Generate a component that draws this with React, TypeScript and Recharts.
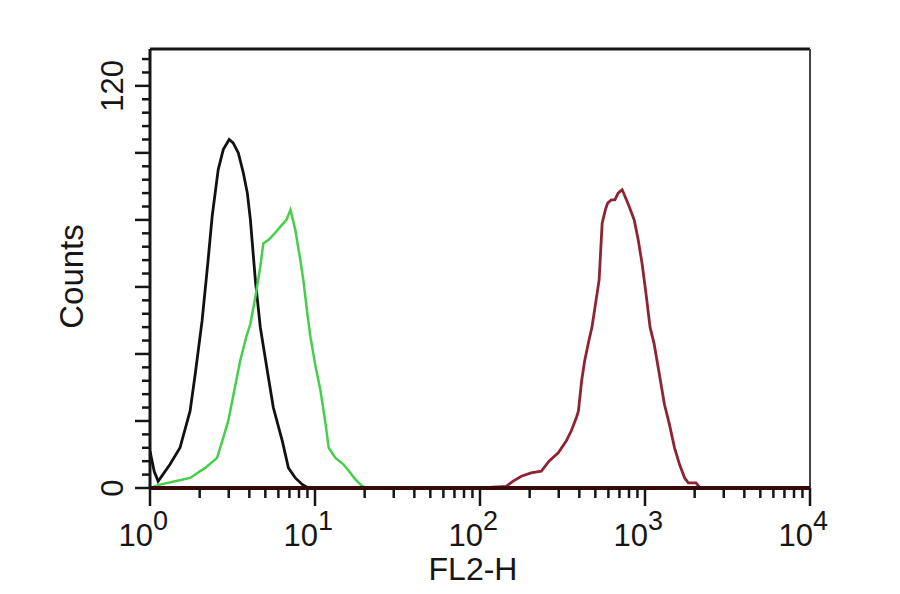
import { Line, LineChart, ReferenceLine, XAxis, YAxis } from "recharts";

// FL2-H channel vs. event count
const isotypeCounts = [
  { fl2: 1, count: 11 },
  { fl2: 1.06, count: 5 },
  { fl2: 1.12, count: 2 },
  { fl2: 1.32, count: 7 },
  { fl2: 1.52, count: 12 },
  { fl2: 1.75, count: 23 },
  { fl2: 1.88, count: 34 },
  { fl2: 2.07, count: 50 },
  { fl2: 2.25, count: 68 },
  { fl2: 2.38, count: 81 },
  { fl2: 2.59, count: 95 },
  { fl2: 2.78, count: 101 },
  { fl2: 3.02, count: 104 },
  { fl2: 3.19, count: 103 },
  { fl2: 3.43, count: 100 },
  { fl2: 3.68, count: 94 },
  { fl2: 3.89, count: 88 },
  { fl2: 4.06, count: 80 },
  { fl2: 4.35, count: 62 },
  { fl2: 4.66, count: 48 },
  { fl2: 5.14, count: 35 },
  { fl2: 5.59, count: 24 },
  { fl2: 6.34, count: 14 },
  { fl2: 6.9, count: 6 },
  { fl2: 7.6, count: 3 },
  { fl2: 8.4, count: 1 },
  { fl2: 9.1, count: 0 },
  { fl2: 10000, count: 0 },
];

const controlCounts = [
  { fl2: 1, count: 0 },
  { fl2: 1.15, count: 1 },
  { fl2: 1.42, count: 2 },
  { fl2: 1.75, count: 3 },
  { fl2: 2.16, count: 6 },
  { fl2: 2.55, count: 9 },
  { fl2: 2.74, count: 14 },
  { fl2: 2.98, count: 20 },
  { fl2: 3.24, count: 29 },
  { fl2: 3.52, count: 38 },
  { fl2: 3.83, count: 45 },
  { fl2: 4.06, count: 49 },
  { fl2: 4.35, count: 57 },
  { fl2: 4.66, count: 66 },
  { fl2: 4.86, count: 73 },
  { fl2: 5.21, count: 74 },
  { fl2: 5.59, count: 75.5 },
  { fl2: 6.17, count: 78 },
  { fl2: 6.71, count: 80 },
  { fl2: 7.1, count: 83 },
  { fl2: 7.6, count: 77 },
  { fl2: 8.15, count: 68 },
  { fl2: 8.5, count: 62 },
  { fl2: 8.99, count: 52 },
  { fl2: 9.39, count: 45 },
  { fl2: 10.1, count: 36 },
  { fl2: 10.8, count: 29 },
  { fl2: 11.6, count: 19 },
  { fl2: 12.1, count: 12 },
  { fl2: 13.3, count: 9 },
  { fl2: 14.9, count: 7 },
  { fl2: 16.4, count: 4.5 },
  { fl2: 17.6, count: 2.5 },
  { fl2: 19.4, count: 0.5 },
  { fl2: 21.1, count: 0 },
  { fl2: 10000, count: 0 },
];

const stainedCounts = [
  { fl2: 1, count: 0 },
  { fl2: 101, count: 0 },
  { fl2: 144, count: 0.5 },
  { fl2: 158, count: 2 },
  { fl2: 178, count: 3.5 },
  { fl2: 204, count: 4.5 },
  { fl2: 235, count: 5 },
  { fl2: 262, count: 8 },
  { fl2: 298, count: 10.5 },
  { fl2: 333, count: 14 },
  { fl2: 357, count: 17 },
  { fl2: 384, count: 21 },
  { fl2: 395, count: 23 },
  { fl2: 413, count: 32 },
  { fl2: 431, count: 38 },
  { fl2: 457, count: 44 },
  { fl2: 477, count: 48 },
  { fl2: 505, count: 56 },
  { fl2: 527, count: 62 },
  { fl2: 550, count: 79 },
  { fl2: 575, count: 83 },
  { fl2: 594, count: 85 },
  { fl2: 625, count: 86 },
  { fl2: 657, count: 86 },
  { fl2: 687, count: 88 },
  { fl2: 727, count: 89 },
  { fl2: 757, count: 87 },
  { fl2: 802, count: 84 },
  { fl2: 860, count: 80 },
  { fl2: 910, count: 74 },
  { fl2: 960, count: 67 },
  { fl2: 1014, count: 58 },
  { fl2: 1073, count: 48 },
  { fl2: 1136, count: 43 },
  { fl2: 1221, count: 34 },
  { fl2: 1311, count: 25 },
  { fl2: 1406, count: 19 },
  { fl2: 1510, count: 12 },
  { fl2: 1620, count: 7 },
  { fl2: 1739, count: 3 },
  { fl2: 1832, count: 1.5 },
  { fl2: 2038, count: 1.5 },
  { fl2: 2158, count: 0 },
  { fl2: 10000, count: 0 },
];

const fl2Ticks = [
  1, 2, 3, 4, 5, 6, 7, 8, 9,
  10, 20, 30, 40, 50, 60, 70, 80, 90,
  100, 200, 300, 400, 500, 600, 700, 800, 900,
  1000, 2000, 3000, 4000, 5000, 6000, 7000, 8000, 9000,
  10000,
];

const countTicks = [
  0, 4, 8, 12, 16, 20, 24, 28, 32, 36, 40, 44, 48, 52, 56, 60, 64,
  68, 72, 76, 80, 84, 88, 92, 96, 100, 104, 108, 112, 116, 120, 124, 128,
];
const countLabels = [0, 120];

const FONT = '"Liberation Sans", Arial, sans-serif';
const INK = "#161616";

function Fl2Tick({ x, y, payload }: any) {
  const exp = Math.log10(payload.value);
  const major = Math.abs(exp - Math.round(exp)) < 1e-6;
  return (
    <g>
      <line x1={x} y1={y} x2={x} y2={y + (major ? 18 : 10)} stroke={INK} strokeWidth={2.5} />
      {major && (
        <g fontFamily={FONT} fill={INK}>
          <text x={x + 3} y={y + 58} fontSize={31} textAnchor="end">
            10
          </text>
          <text x={x + 3} y={y + 42} fontSize={27} textAnchor="start">
            {Math.round(exp)}
          </text>
        </g>
      )}
    </g>
  );
}

function CountTick({ x, y, payload }: any) {
  const v = payload.value;
  const major = v % 20 === 0;
  return (
    <g>
      <line x1={x} y1={y} x2={x - (major ? 15 : 8)} y2={y} stroke={INK} strokeWidth={2.5} />
      {countLabels.includes(v) && (
        <text
          transform={`translate(${x - 27},${y}) rotate(-90)`}
          textAnchor="middle"
          fontFamily={FONT}
          fontSize={31}
          fill={INK}
        >
          {v}
        </text>
      )}
    </g>
  );
}

function XTitle(props: any) {
  const vb = props.viewBox ?? { x: 150, y: 488, width: 660, height: 30 };
  return (
    <text
      x={vb.x + vb.width / 2 - 7}
      y={vb.y + 92}
      textAnchor="middle"
      fontFamily={FONT}
      fontSize={32}
      fill={INK}
    >
      FL2-H
    </text>
  );
}

function YTitle(props: any) {
  const vb = props.viewBox ?? { x: 90, y: 49, width: 60, height: 439 };
  const cx = vb.x + vb.width - 67;
  const cy = vb.y + vb.height / 2 + 8;
  return (
    <text
      transform={`translate(${cx},${cy}) rotate(-90)`}
      textAnchor="middle"
      fontFamily={FONT}
      fontSize={33}
      fill={INK}
    >
      Counts
    </text>
  );
}

export default function App() {
  return (
    <div style={{ position: "absolute", left: 0, top: 0, background: "#fff" }}>
      <LineChart
        width={900}
        height={594}
        margin={{ top: 49, right: 90, bottom: 76, left: 90 }}
      >
        <XAxis
          dataKey="fl2"
          type="number"
          scale="log"
          domain={[1, 10000]}
          allowDataOverflow
          ticks={fl2Ticks}
          interval={0}
          height={30}
          tickSize={0}
          tickMargin={0}
          tick={<Fl2Tick />}
          axisLine={{ stroke: "#3a0a0a", strokeWidth: 4 }}
          label={XTitle}
        />
        <YAxis
          type="number"
          domain={[0, 131]}
          allowDataOverflow
          ticks={countTicks}
          interval={0}
          width={60}
          tickSize={0}
          tickMargin={0}
          tick={<CountTick />}
          axisLine={{ stroke: INK, strokeWidth: 3 }}
          label={YTitle}
        />
        <ReferenceLine y={131} stroke={INK} strokeWidth={3} />
        <ReferenceLine x={10000} stroke="#444" strokeWidth={2} />
        <Line
          data={isotypeCounts}
          dataKey="count"
          type="linear"
          stroke="#111"
          strokeWidth={2.8}
          dot={false}
          isAnimationActive={false}
        />
        <Line
          data={controlCounts}
          dataKey="count"
          type="linear"
          stroke="#45cf4c"
          strokeWidth={2.5}
          dot={false}
          isAnimationActive={false}
        />
        <Line
          data={stainedCounts}
          dataKey="count"
          type="linear"
          stroke="#8e2433"
          strokeWidth={2.8}
          dot={false}
          isAnimationActive={false}
        />
      </LineChart>
    </div>
  );
}
